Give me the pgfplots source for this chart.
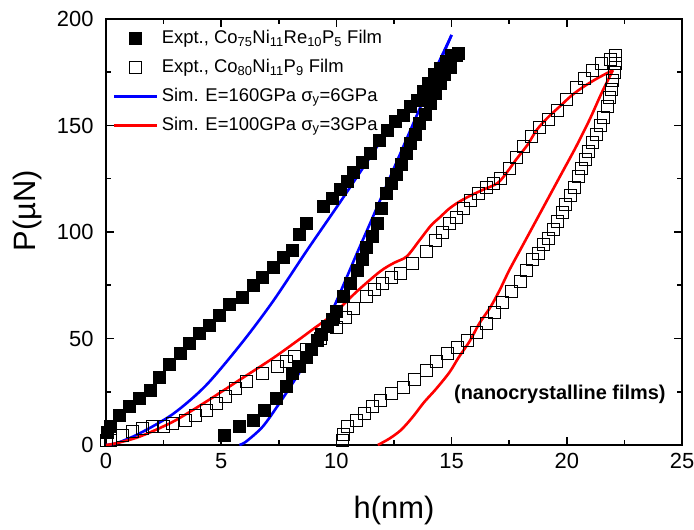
\documentclass[border=0pt]{standalone}
\usepackage{pgfplots}
\pgfplotsset{compat=1.18}
\usepackage{fontspec}
\setmainfont{Liberation Sans}

\begin{document}
\begin{tikzpicture}
\begin{axis}[
    scale only axis,
    width=576bp, height=426bp,
    xmin=0, xmax=25, ymin=0, ymax=200,
    xtick={0,5,...,25}, ytick={0,50,...,200},
    minor x tick num=1, minor y tick num=1,
    tick align=inside,
    major tick length=8bp, minor tick length=5bp,
    axis line style={line width=1.8bp},
    every tick/.style={black, line width=1.5bp},
    /pgf/number format/assume math mode=true,
    tick label style={font=\fontsize{22}{26}\selectfont},
    xticklabel style={yshift=-5bp},
    yticklabel style={xshift=-9bp},
    xlabel={h(nm)}, ylabel={P(µN)},
    label style={font=\fontsize{31}{36}\selectfont},
    xlabel style={at={(axis description cs:0.5,0)}, anchor=center, yshift=-66bp},
    ylabel style={at={(axis description cs:-0.136,0.55)}, anchor=center},
    legend cell align=left,
    legend image code/.code={\draw[mark repeat=2,mark phase=2,#1] plot coordinates {(0bp,0bp) (21bp,0bp) (42bp,0bp)};},
    legend style={draw=none, fill=none, at={(axis description cs:0,1)}, anchor=north west,
        xshift=7bp, yshift=-11bp, inner sep=0pt, row sep=12bp, column sep=4bp,
        font=\fontsize{18.5}{21}\selectfont,
        nodes={inner sep=0pt, text height=13bp, text depth=4bp}},
]
% Co75Ni11Re10P5 film, loading
\addplot[only marks, mark=square*, mark size=6bp, mark options={fill=black, draw=black}] coordinates {
    (0.05,6) (0.2,8.7) (0.58,14) (1.0,18) (1.45,22) (1.9,25.8) (2.3,32) (2.75,38)
    (3.2,43) (3.6,47.8) (4.05,52.5) (4.5,56.4) (4.9,61) (5.35,66) (5.9,69.6)
    (6.4,75) (6.8,79) (7.26,83.7) (7.7,88) (8.1,91.5) (8.4,99) (8.7,104)
    (9.43,112) (9.8,116) (10.16,120) (10.45,124) (10.74,128) (11.1,133) (11.46,137)
    (11.85,143) (12.2,148) (12.55,152) (12.9,155) (13.2,159) (13.5,162) (13.75,166)
    (14.0,170) (14.25,174) (14.5,177) (14.75,180) (15.0,183) (15.3,184)
};
\addlegendentry{Expt., Co\textsubscript{75}Ni\textsubscript{11}Re\textsubscript{10}P\textsubscript{5} Film}
% Co75Ni11Re10P5 film, unloading
\addplot[forget plot, only marks, mark=square*, mark size=6bp, mark options={fill=black, draw=black}] coordinates {
    (15.2,183) (14.93,177.6) (14.7,174) (14.5,170) (14.3,165) (14.06,160.3) (13.85,155.5)
    (13.6,150.9) (13.4,146) (13.2,141.5) (13.05,137) (12.8,132) (12.6,127) (12.4,122.7)
    (12.18,118) (11.95,111) (11.75,104) (11.55,98) (11.3,93) (11.1,87) (10.9,82)
    (10.6,76) (10.3,69.7) (10.0,63) (9.8,59) (9.58,55.6) (9.35,52) (9.15,49) (8.9,45)
    (8.7,41) (8.4,37) (8.1,33.6) (7.8,27.4) (7.38,21.9) (6.87,16.4) (6.37,11.8)
    (5.79,8.7) (5.14,4.8)
};
% Co80Ni11P9 film, loading
\addplot[only marks, mark=square, mark size=6bp, mark options={draw=black, line width=0.9bp}] coordinates {
    (0.0,2) (0.2,2.3) (0.72,4.7) (1.16,6.3) (1.6,7.8) (2.0,8.6) (2.5,8.6) (2.9,10.2)
    (3.47,11.7) (3.9,14) (4.34,16.4) (4.78,19.5) (5.2,22.7) (5.64,26.6) (6.08,29.7)
    (6.8,33.6) (7.45,36.8) (7.85,39) (8.2,41.5) (8.7,45) (9.3,50) (10.0,55)
    (10.4,60) (10.74,64) (11.3,69.7) (11.65,73) (12.0,76) (12.4,78.5) (12.76,80.5)
    (13.3,85) (13.9,91) (14.3,96) (14.6,100) (14.9,104) (15.2,107) (15.5,111)
    (15.8,115) (16.15,118) (16.5,121) (16.8,123) (17.1,125) (17.5,130) (17.8,135)
    (18.1,140) (18.45,145) (18.8,149) (19.2,153) (19.6,157) (20.0,162) (20.4,168)
    (20.75,172) (21.1,176) (21.5,179) (21.9,181) (22.1,183)
};
\addlegendentry{Expt., Co\textsubscript{80}Ni\textsubscript{11}P\textsubscript{9} Film}
% Co80Ni11P9 film, unloading
\addplot[forget plot, only marks, mark=square, mark size=6bp, mark options={draw=black, line width=0.9bp}] coordinates {
    (22.1,179) (22.05,175) (22.0,171) (21.95,167) (21.85,163) (21.75,159) (21.6,154)
    (21.45,150) (21.3,146) (21.1,142) (20.95,138) (20.8,134) (20.65,130) (20.5,126)
    (20.35,121) (20.15,117) (19.95,113) (19.8,109) (19.6,105) (19.4,101) (19.2,97)
    (19.0,94) (18.75,90) (18.5,87) (18.25,82) (18.0,77) (17.6,72) (17.2,67)
    (16.85,62) (16.5,57) (16.1,53) (15.7,49) (15.25,46) (14.8,43) (14.35,39)
    (13.9,35) (13.4,31) (12.9,27) (12.4,24) (11.9,21) (11.55,18) (11.2,15)
    (10.85,11.5) (10.5,8.5) (10.3,5) (10.25,2)
};
% E=160GPa, sigma_y=6GPa
\addplot[blue, line width=2.6bp, smooth, tension=0.5] coordinates {
    (0,0) (0.5,1) (1.45,5.4) (2.9,14.5) (4.34,28) (5.9,48) (7.25,67.5)
    (8.7,91) (10.16,114) (11.3,132.5) (12.33,149) (13.0,156.5)
    (13.45,161) (13.8,166) (14.35,177.6) (15.0,192.5)
};
\addlegendentry{Sim. E=160GPa σ\textsubscript{y}=6GPa}
\addplot[forget plot, blue, line width=2.6bp, smooth, tension=0.5] coordinates {
    (15.0,192.5) (14.2,172.5) (13.2,147.5) (12.5,130) (11.9,115) (11.4,102.5)
    (10.88,89.7) (10.4,77.5) (9.9,65) (9.43,54) (8.8,41.5) (8.25,31.5) (7.52,19.5)
    (6.8,8.6) (6.08,1.6) (5.79,0)
};
% E=100GPa, sigma_y=3GPa
\addplot[red, line width=2.6bp, smooth, tension=0.5] coordinates {
    (0,0) (0.43,0.8) (1.45,3.9) (2.9,10.9) (4.34,20.3) (5.79,30.5) (7.24,40.7)
    (8.25,48.5) (9.0,54.5) (9.87,61.5) (10.88,72) (11.9,81.5) (12.5,85.5)
    (13.05,88.5) (13.6,96) (14.1,103) (14.5,107) (14.9,111) (15.3,114) (15.8,117)
    (16.4,120) (17.0,123) (17.4,128) (17.8,134) (18.3,141) (18.7,148) (19.2,154)
    (19.7,159) (20.2,164) (20.7,168) (21.3,172) (22.0,176)
};
\addlegendentry{Sim. E=100GPa σ\textsubscript{y}=3GPa}
\addplot[forget plot, red, line width=2.6bp, smooth, tension=0.5] coordinates {
    (22.0,176) (21.5,165) (21.0,153) (20.4,140) (19.8,128) (19.2,116) (18.7,106)
    (18.1,94) (17.5,82) (17.1,73) (16.7,65) (16.2,57) (15.8,49) (15.3,41)
    (14.9,34) (14.3,26) (13.8,20) (13.3,13) (12.8,7) (12.3,3) (11.8,0)
};
\node[font=\bfseries\fontsize{20}{24}\selectfont] at (axis cs:19.7,24) {(nanocrystalline films)};
\end{axis}
\pgfresetboundingbox
\path (current axis.south west) ++(-106bp,-85bp) rectangle ++(694bp,530bp);
\end{tikzpicture}
\end{document}
